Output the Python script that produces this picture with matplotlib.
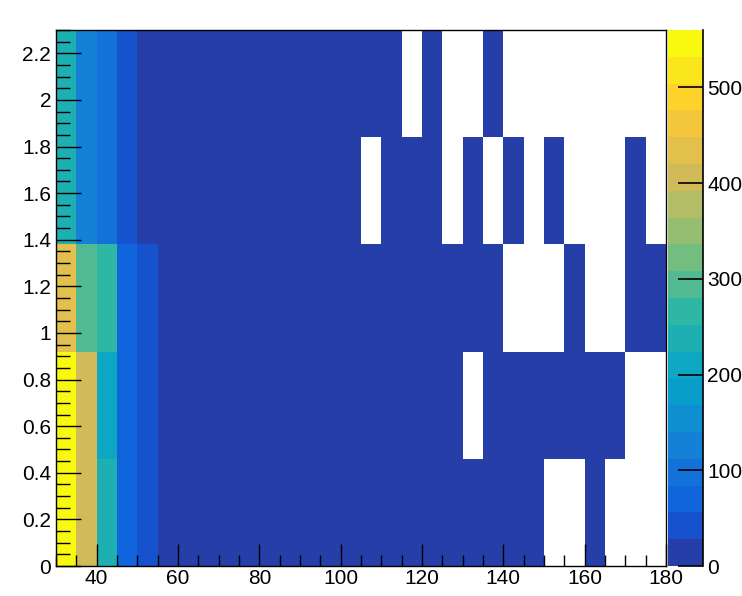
import numpy as np
import matplotlib
matplotlib.use("Agg")
import matplotlib.pyplot as plt
from matplotlib.colors import ListedColormap, BoundaryNorm
from matplotlib.ticker import MultipleLocator

# Histogram binning
x_range = (30.0, 180.0)
n_xbins = 30
y_range = (0.0, 2.3)
n_ybins = 5

# Bin contents, one list per y bin (bottom to top), 30 x bins each
row_0 = [560, 405, 225, 72, 44, 24, 19, 17, 15, 14, 12, 11, 10, 9, 8, 7, 6, 5,
         5, 4, 4, 3, 3, 2, 0, 0, 3, 0, 0, 0]
row_1 = [545, 400, 220, 70, 42, 22, 18, 16, 14, 13, 12, 10, 9, 8, 7, 7, 6, 5,
         4, 4, 0, 3, 3, 2, 2, 2, 1, 1, 0, 0]
row_2 = [425, 295, 262, 68, 40, 20, 17, 15, 13, 12, 11, 10, 9, 8, 7, 6, 5, 5,
         4, 3, 3, 2, 0, 0, 0, 2, 0, 0, 1, 1]
row_3 = [238, 118, 95, 45, 22, 18, 15, 13, 12, 11, 10, 9, 8, 7, 6, 0, 5, 4,
         3, 0, 3, 0, 2, 0, 2, 0, 0, 0, 1, 0]
row_4 = [232, 114, 90, 42, 20, 16, 14, 12, 11, 10, 9, 8, 7, 6, 5, 5, 4, 0,
         3, 0, 0, 2, 0, 0, 0, 0, 0, 0, 0, 0]

x_ticks = [40, 60, 80, 100, 120, 140, 160, 180]
y_ticks = [0, 0.2, 0.4, 0.6, 0.8, 1, 1.2, 1.4, 1.6, 1.8, 2, 2.2]
z_ticks = [0, 100, 200, 300, 400, 500]
n_contours = 20

# ROOT "bird" palette: 255-colour gradient through nine stops
stops = [0.0, 0.125, 0.25, 0.375, 0.5, 0.625, 0.75, 0.875, 1.0]
red = [0.2082, 0.0592, 0.0780, 0.0232, 0.1802, 0.5301, 0.8186, 0.9956, 0.9764]
green = [0.1664, 0.3599, 0.5041, 0.6419, 0.7178, 0.7492, 0.7328, 0.7862, 0.9832]
blue = [0.5293, 0.8684, 0.8385, 0.7914, 0.6425, 0.4662, 0.3499, 0.1968, 0.0539]

n_colors = 255
palette = []
for g in range(1, len(stops)):
    n = int(np.floor(n_colors * stops[g]) - np.floor(n_colors * stops[g - 1]))
    for c in range(n):
        palette.append((red[g - 1] + c * (red[g] - red[g - 1]) / n,
                        green[g - 1] + c * (green[g] - green[g - 1]) / n,
                        blue[g - 1] + c * (blue[g] - blue[g - 1]) / n))

# One colour per contour band, picked the way COLZ does
band_colors = [palette[int((k + 0.99) * n_colors / n_contours)] for k in range(n_contours)]
cmap = ListedColormap(band_colors)

counts = np.array([row_0, row_1, row_2, row_3, row_4], dtype=float)
z_max = counts.max()
norm = BoundaryNorm(np.linspace(0, z_max, n_contours + 1), n_contours)
masked = np.ma.masked_less_equal(counts, 0)

x_edges = np.linspace(x_range[0], x_range[1], n_xbins + 1)
y_edges = np.linspace(y_range[0], y_range[1], n_ybins + 1)

plt.rcParams['font.family'] = ['Liberation Sans', 'DejaVu Sans']

W, H = 742, 596
fig = plt.figure(figsize=(W / 100, H / 100), dpi=100)
fig.patch.set_facecolor('white')

ax = fig.add_axes([56 / W, (H - 566) / H, 610 / W, 536 / H])
mesh = ax.pcolormesh(x_edges, y_edges, masked, cmap=cmap, norm=norm,
                     edgecolors='none', antialiased=False)
ax.set_xlim(*x_range)
ax.set_ylim(*y_range)

ax.xaxis.set_major_locator(MultipleLocator(20))
ax.xaxis.set_minor_locator(MultipleLocator(5))
ax.yaxis.set_major_locator(MultipleLocator(0.2))
ax.yaxis.set_minor_locator(MultipleLocator(0.05))
ax.set_xticks(x_ticks)
ax.set_yticks(y_ticks)
ax.set_xticklabels([f"{v:g}" for v in x_ticks])
ax.set_yticklabels([f"{v:g}" for v in y_ticks])

ax.tick_params(axis='both', which='both', direction='in', top=False, right=False,
               color='black', labelsize=15)
ax.tick_params(axis='x', which='major', length=16, width=1.0, pad=2.5)
ax.tick_params(axis='x', which='minor', length=8, width=1.0)
ax.tick_params(axis='y', which='major', length=18, width=1.0, pad=3.5)
ax.tick_params(axis='y', which='minor', length=10, width=1.0)
for s in ax.spines.values():
    s.set_linewidth(1.0)
    s.set_color('black')

# Palette axis on the right
cax = fig.add_axes([668 / W, (H - 566) / H, 35 / W, 536 / H])
cb = fig.colorbar(mesh, cax=cax)
cb.outline.set_visible(False)
cax.axvline(1.0, color='black', lw=1.2, clip_on=False)
cb.set_ticks(z_ticks)
cb.set_ticklabels([f"{v:g}" for v in z_ticks])
cax.yaxis.set_minor_locator(plt.NullLocator())
cax.tick_params(axis='y', which='major', direction='in', length=18, width=1.2,
                color='black', labelsize=15, pad=3, right=True, left=False)

fig.savefig('out.png', dpi=100, facecolor='white')
